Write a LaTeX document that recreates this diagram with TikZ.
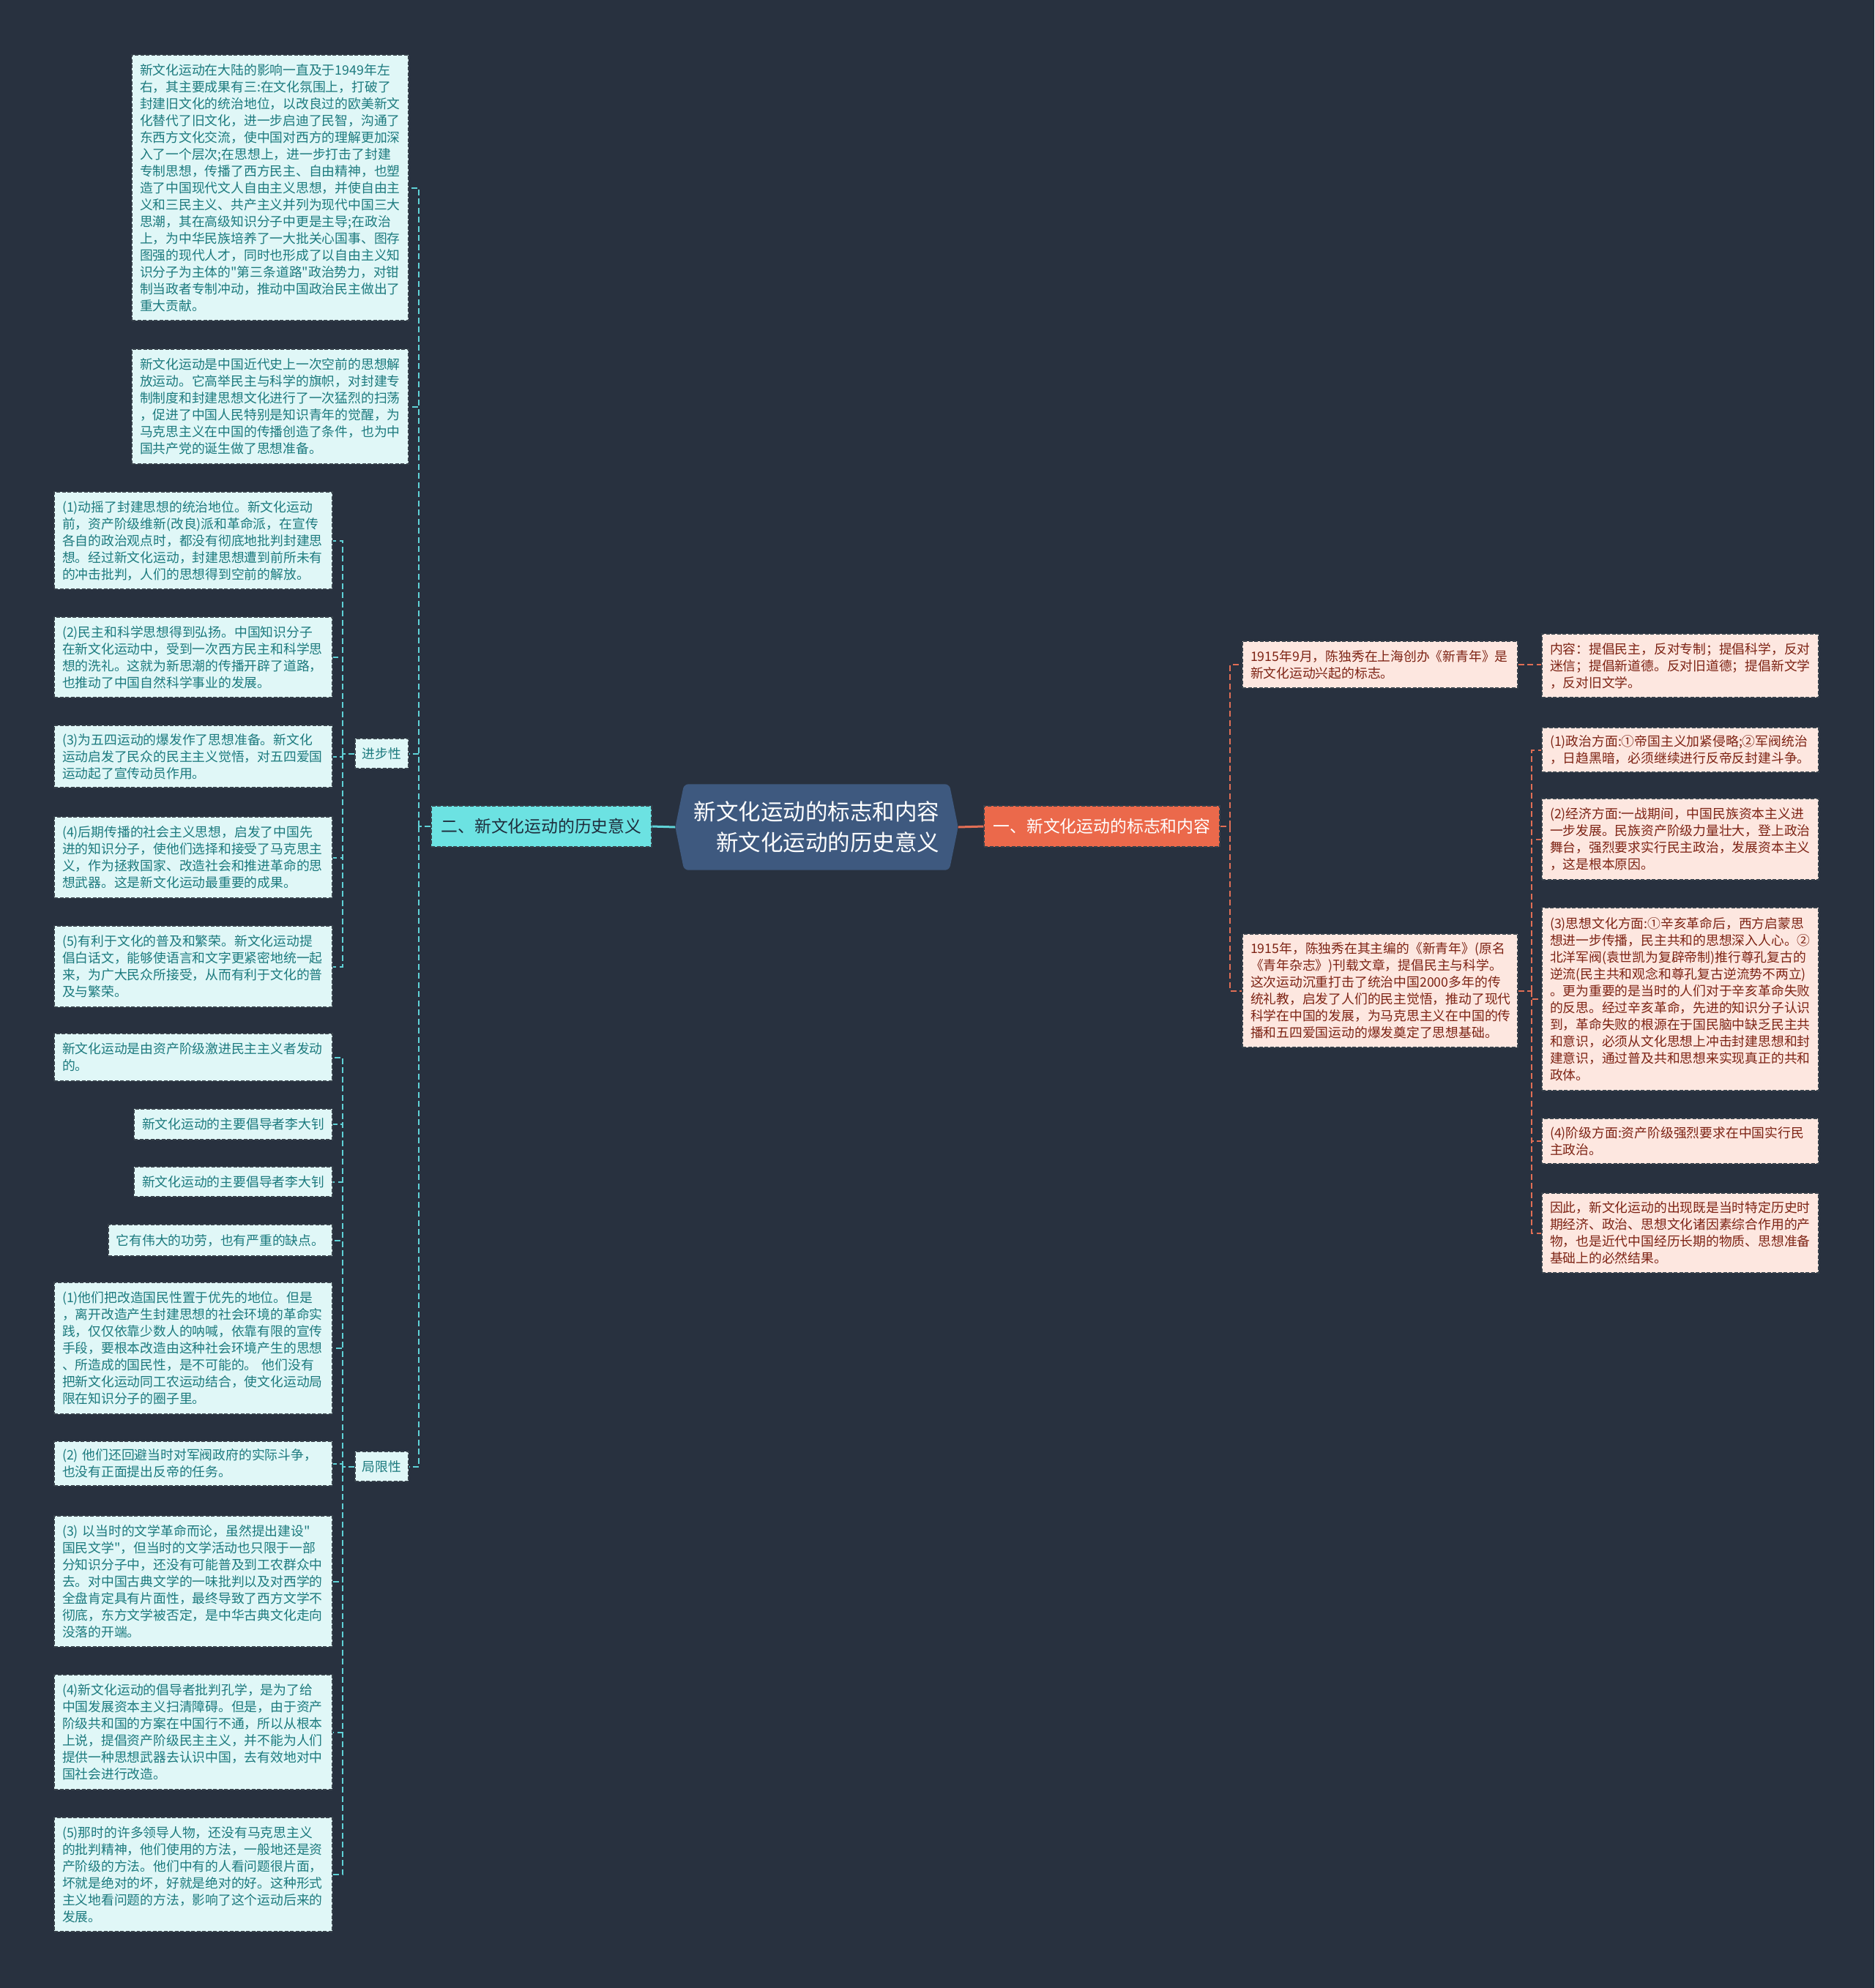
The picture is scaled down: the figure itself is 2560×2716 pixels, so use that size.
\documentclass[tikz,border=0pt]{standalone}
\usepackage{fontspec}
\setmainfont{Noto Sans CJK SC}[Ligatures=TeXOff]
\usetikzlibrary{backgrounds}
\definecolor{bgc}{RGB}{40,49,63}
\definecolor{cyanleaf}{RGB}{224,247,247}
\definecolor{cyantext}{RGB}{28,122,126}
\definecolor{cyanmain}{RGB}{108,226,226}
\definecolor{cyanline}{RGB}{95,210,215}
\definecolor{orangemain}{RGB}{235,105,75}
\definecolor{orangeline}{RGB}{225,110,85}
\definecolor{pinkleaf}{RGB}{253,231,224}
\definecolor{pinktext}{RGB}{125,35,20}
\definecolor{ctrfill}{RGB}{62,89,127}
\definecolor{bordc}{RGB}{55,65,75}
\definecolor{darktext}{RGB}{30,45,60}
\newcommand\leaffont{\fontsize{5.06pt}{6.54pt}\selectfont}
\newcommand\brfont{\fontsize{6.49pt}{8pt}\selectfont}
\newcommand\ctrfont{\fontsize{8.68pt}{11.8pt}\selectfont}
\begin{document}
\begin{tikzpicture}[x=0.1mm,y=-0.1mm,
  leafbase/.style={draw=bordc, dash pattern=on 0.5mm off 0.25mm, line width=0.12mm,
    inner xsep=1.1mm, inner ysep=0.5mm, align=left, font=\leaffont},
  cleaf/.style={leafbase, fill=cyanleaf, text=cyantext},
  pleaf/.style={leafbase, fill=pinkleaf, text=pinktext},
  cl/.style={draw=cyanline, line width=0.2mm, dash pattern=on 0.8mm off 0.45mm},
  ol/.style={draw=orangeline, line width=0.2mm, dash pattern=on 0.8mm off 0.45mm},
  mainbr/.style={draw=bordc, dash pattern=on 0.5mm off 0.25mm, line width=0.12mm,
    font=\brfont, minimum height=5.6mm, inner sep=0pt}
]
\begin{scope}[on background layer]
\fill[bgc] (0,0) rectangle (2560,2716);
\end{scope}
\useasboundingbox (0,0) rectangle (2560,2716);

% centre
\node[text=white, font=\ctrfont, align=right, minimum width=36.1mm, minimum height=11.6mm, inner sep=0pt] (C) at (1115.5,1130) {新文化运动的标志和内容\\新文化运动的历史意义};
\begin{scope}[on background layer]
\fill[ctrfill, rounded corners=0.6mm] (C.north west) -- (C.north east) -- ([xshift=1.2mm]C.east) -- (C.south east) -- (C.south west) -- ([xshift=-1.2mm]C.west) -- cycle;
\end{scope}
\coordinate (Cw) at ([xshift=-1.2mm]C.west);
\coordinate (Ce) at ([xshift=1.2mm]C.east);

\node[mainbr, fill=cyanmain, text=darktext, minimum width=30.1mm] (L) at (739.5,1129) {二、新文化运动的历史意义};
\node[mainbr, fill=orangemain, text=white, minimum width=32.2mm] (R) at (1505,1129) {一、新文化运动的标志和内容};

\draw[draw=cyanline, line width=0.3mm] (L.east) -- (Cw);
\draw[draw=orangeline, line width=0.3mm] (Ce) -- (R.west);

% ---------- left side ----------
\node[cleaf, text width=35.6mm, minimum height=36.3mm] (A) at (369,256.5) {新文化运动在大陆的影响一直及于1949年左\\右，其主要成果有三:在文化氛围上，打破了\\封建旧文化的统治地位，以改良过的欧美新文\\化替代了旧文化，进一步启迪了民智，沟通了\\东西方文化交流，使中国对西方的理解更加深\\入了一个层次;在思想上，进一步打击了封建\\专制思想，传播了西方民主、自由精神，也塑\\造了中国现代文人自由主义思想，并使自由主\\义和三民主义、共产主义并列为现代中国三大\\思潮，其在高级知识分子中更是主导;在政治\\上，为中华民族培养了一大批关心国事、图存\\图强的现代人才，同时也形成了以自由主义知\\识分子为主体的"第三条道路"政治势力，对钳\\制当政者专制冲动，推动中国政治民主做出了\\重大贡献。};
\node[cleaf, text width=35.6mm, minimum height=15.7mm] (B) at (369,555.5) {新文化运动是中国近代史上一次空前的思想解\\放运动。它高举民主与科学的旗帜，对封建专\\制制度和封建思想文化进行了一次猛烈的扫荡\\，促进了中国人民特别是知识青年的觉醒，为\\马克思主义在中国的传播创造了条件，也为中\\国共产党的诞生做了思想准备。};

\node[cleaf, align=center, inner sep=0pt, minimum width=7.3mm, minimum height=4.1mm] (JB) at (521.5,1029.5) {进步性};
\node[cleaf, align=center, inner sep=0pt, minimum width=7.3mm, minimum height=4.1mm] (JX) at (521.5,2003.5) {局限性};

\node[cleaf, text width=35.8mm, minimum height=13.3mm] (P1) at (264,738.5) {(1)动摇了封建思想的统治地位。新文化运动\\前，资产阶级维新(改良)派和革命派，在宣传\\各自的政治观点时，都没有彻底地批判封建思\\想。经过新文化运动，封建思想遭到前所未有\\的冲击批判，人们的思想得到空前的解放。};
\node[cleaf, text width=35.8mm, minimum height=11.0mm] (P2) at (264,898) {(2)民主和科学思想得到弘扬。中国知识分子\\在新文化运动中，受到一次西方民主和科学思\\想的洗礼。这就为新思潮的传播开辟了道路，\\也推动了中国自然科学事业的发展。};
\node[cleaf, text width=35.8mm, minimum height=8.5mm] (P3) at (264,1033.5) {(3)为五四运动的爆发作了思想准备。新文化\\运动启发了民众的民主主义觉悟，对五四爱国\\运动起了宣传动员作用。};
\node[cleaf, text width=35.8mm, minimum height=11.1mm] (P4) at (264,1171.5) {(4)后期传播的社会主义思想，启发了中国先\\进的知识分子，使他们选择和接受了马克思主\\义，作为拯救国家、改造社会和推进革命的思\\想武器。这是新文化运动最重要的成果。};
\node[cleaf, text width=35.8mm, minimum height=11.1mm] (P5) at (264,1320.5) {(5)有利于文化的普及和繁荣。新文化运动提\\倡白话文，能够使语言和文字更紧密地统一起\\来，为广大民众所接受，从而有利于文化的普\\及与繁荣。};

\node[cleaf, text width=35.8mm, minimum height=6.5mm] (Q0) at (264,1444.5) {新文化运动是由资产阶级激进民主主义者发动\\的。};
\node[cleaf, align=center, inner sep=0pt, minimum width=27.1mm, minimum height=4.2mm] (Q1) at (318.5,1536) {新文化运动的主要倡导者李大钊};
\node[cleaf, align=center, inner sep=0pt, minimum width=27.1mm, minimum height=4.1mm] (Q2) at (318.5,1614.5) {新文化运动的主要倡导者李大钊};
\node[cleaf, align=center, inner sep=0pt, minimum width=30.6mm, minimum height=4.3mm] (Q3) at (301,1694.5) {它有伟大的功劳，也有严重的缺点。};
\node[cleaf, text width=35.8mm, minimum height=18.0mm] (L1) at (264,1842) {(1)他们把改造国民性置于优先的地位。但是\\，离开改造产生封建思想的社会环境的革命实\\践，仅仅依靠少数人的呐喊，依靠有限的宣传\\手段，要根本改造由这种社会环境产生的思想\\、所造成的国民性，是不可能的。 他们没有\\把新文化运动同工农运动结合，使文化运动局\\限在知识分子的圈子里。};
\node[cleaf, text width=35.8mm, minimum height=6.1mm] (L2) at (264,1999.5) {(2) 他们还回避当时对军阀政府的实际斗争，\\也没有正面提出反帝的任务。};
\node[cleaf, text width=35.8mm, minimum height=17.9mm] (L3) at (264,2160.5) {(3) 以当时的文学革命而论，虽然提出建设"\\国民文学"，但当时的文学活动也只限于一部\\分知识分子中，还没有可能普及到工农群众中\\去。对中国古典文学的一味批判以及对西学的\\全盘肯定具有片面性，最终导致了西方文学不\\彻底，东方文学被否定，是中华古典文化走向\\没落的开端。};
\node[cleaf, text width=35.8mm, minimum height=15.7mm] (L4) at (264,2366.5) {(4)新文化运动的倡导者批判孔学，是为了给\\中国发展资本主义扫清障碍。但是，由于资产\\阶级共和国的方案在中国行不通，所以从根本\\上说，提倡资产阶级民主主义，并不能为人们\\提供一种思想武器去认识中国，去有效地对中\\国社会进行改造。};
\node[cleaf, text width=35.8mm, minimum height=15.6mm] (L5) at (264,2561) {(5)那时的许多领导人物，还没有马克思主义\\的批判精神，他们使用的方法，一般地还是资\\产阶级的方法。他们中有的人看问题很片面，\\坏就是绝对的坏，好就是绝对的好。这种形式\\主义地看问题的方法，影响了这个运动后来的\\发展。};

% left connectors
\coordinate (lt) at (572,1129);
\draw[cl] (L.west) -- (lt);
\foreach \n in {A,B,JB,JX} \draw[cl] (lt) |- (\n.east);
\coordinate (jbt) at (468,1029.5);
\draw[cl] (JB.west) -- (jbt);
\foreach \n in {P1,P2,P3,P4,P5} \draw[cl] (jbt) |- (\n.east);
\coordinate (jxt) at (468,2003.5);
\draw[cl] (JX.west) -- (jxt);
\foreach \n in {Q0,Q1,Q2,Q3,L1,L2,L3,L4,L5} \draw[cl] (jxt) |- (\n.east);

% ---------- right side ----------
\node[pleaf, text width=35.4mm, minimum height=6.4mm] (R1) at (1885,908) {1915年9月，陈独秀在上海创办《新青年》是\\新文化运动兴起的标志。};
\node[pleaf, text width=35.4mm, minimum height=15.5mm] (R2) at (1885,1353.5) {1915年，陈独秀在其主编的《新青年》(原名\\《青年杂志》)刊载文章，提倡民主与科学。\\这次运动沉重打击了统治中国2000多年的传\\统礼教，启发了人们的民主觉悟，推动了现代\\科学在中国的发展，为马克思主义在中国的传\\播和五四爱国运动的爆发奠定了思想基础。};
\node[pleaf, text width=35.6mm, minimum height=8.7mm] (S0) at (2295,909.5) {内容：提倡民主，反对专制；提倡科学，反对\\迷信；提倡新道德。反对旧道德；提倡新文学\\，反对旧文学。};
\node[pleaf, text width=35.6mm, minimum height=6.1mm] (S1) at (2295,1024.5) {(1)政治方面:①帝国主义加紧侵略;②军阀统治\\，日趋黑暗，必须继续进行反帝反封建斗争。};
\node[pleaf, text width=35.6mm, minimum height=11.1mm] (S2) at (2295,1146.5) {(2)经济方面:一战期间，中国民族资本主义进\\一步发展。民族资产阶级力量壮大，登上政治\\舞台，强烈要求实行民主政治，发展资本主义\\，这是根本原因。};
\node[pleaf, text width=35.6mm, minimum height=25.0mm] (S3) at (2295,1365) {(3)思想文化方面:①辛亥革命后，西方启蒙思\\想进一步传播，民主共和的思想深入人心。②\\北洋军阀(袁世凯为复辟帝制)推行尊孔复古的\\逆流(民主共和观念和尊孔复古逆流势不两立)\\。更为重要的是当时的人们对于辛亥革命失败\\的反思。经过辛亥革命，先进的知识分子认识\\到，革命失败的根源在于国民脑中缺乏民主共\\和意识，必须从文化思想上冲击封建思想和封\\建意识，通过普及共和思想来实现真正的共和\\政体。};
\node[pleaf, text width=35.6mm, minimum height=6.2mm] (S4) at (2295,1559) {(4)阶级方面:资产阶级强烈要求在中国实行民\\主政治。};
\node[pleaf, text width=35.6mm, minimum height=10.9mm] (S5) at (2295,1684.5) {因此，新文化运动的出现既是当时特定历史时\\期经济、政治、思想文化诸因素综合作用的产\\物，也是近代中国经历长期的物质、思想准备\\基础上的必然结果。};

% right connectors
\coordinate (rt) at (1680,1129);
\draw[ol] (R.east) -- (rt);
\foreach \n in {R1,R2} \draw[ol] (rt) |- (\n.west);
\draw[ol] (R1.east) -- (R1.east -| S0.west);
\coordinate (r2t) at (2092,1353.5);
\draw[ol] (R2.east) -- (r2t);
\foreach \n in {S1,S2,S3,S4,S5} \draw[ol] (r2t) |- (\n.west);
\end{tikzpicture}
\end{document}
